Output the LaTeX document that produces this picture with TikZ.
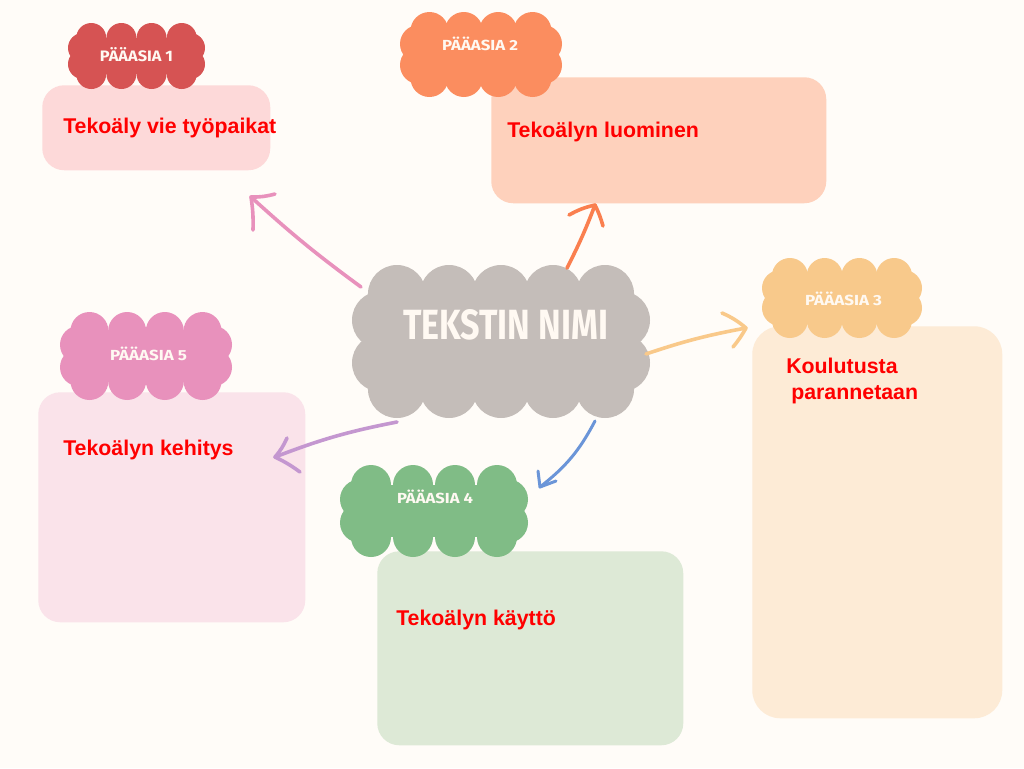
\documentclass[tikz,border=0pt]{standalone}
\usepackage{fontspec}
\usepackage{graphicx}
\setmainfont{Liberation Sans}
\newfontfamily\headfont{Fira Sans}
\newlength\pxu \setlength\pxu{0.75pt}
\definecolor{bgcol}{HTML}{FFFCF8}
\definecolor{c1col}{HTML}{D65353}
\definecolor{b1col}{HTML}{FDD9D9}
\definecolor{c2col}{HTML}{FB8D5F}
\definecolor{b2col}{HTML}{FED1BC}
\definecolor{c3col}{HTML}{F8C98B}
\definecolor{b3col}{HTML}{FDEBD6}
\definecolor{c4col}{HTML}{80BC86}
\definecolor{b4col}{HTML}{DDE9D6}
\definecolor{c5col}{HTML}{E891BC}
\definecolor{b5col}{HTML}{FAE3EA}
\definecolor{maincol}{HTML}{C4BDB9}
\definecolor{txtred}{HTML}{FF0000}
\definecolor{headtxt}{HTML}{FFF9F2}
\definecolor{a1col}{HTML}{E891BC}
\definecolor{a2col}{HTML}{FA7F4F}
\definecolor{a3col}{HTML}{F9C98A}
\definecolor{a4col}{HTML}{6B95D8}
\definecolor{a5col}{HTML}{C497D0}
\newcommand{\mycloud}[8]{%
  \pgfmathsetmacro\cwA{#4-#6}%
  \pgfmathsetmacro\chA{#5-#6}%
  \pgfmathsetmacro\csA{0.45*\chA}%
  \pgfmathsetmacro\cdA{0.55*#6}%
  \pgfmathsetmacro\cstepA{(2*\cwA-2*\cdA)/(#7-1)}%
  \fill[#8] ({#2-\cwA},{#3-\chA}) rectangle ({#2+\cwA},{#3+\chA});
  \foreach \i in {1,...,#7}{%
    \fill[#8] ({#2-\cwA+\cdA+(\i-1)*\cstepA},{#3-\chA}) circle[radius=#6];
    \fill[#8] ({#2-\cwA+\cdA+(\i-1)*\cstepA},{#3+\chA}) circle[radius=#6];
  }
  \fill[#8] ({#2-\cwA},{#3-\csA}) circle[radius=#6];
  \fill[#8] ({#2-\cwA},{#3+\csA}) circle[radius=#6];
  \fill[#8] ({#2+\cwA},{#3-\csA}) circle[radius=#6];
  \fill[#8] ({#2+\cwA},{#3+\csA}) circle[radius=#6];
  \coordinate (#1) at (#2,#3);
}
\tikzset{
  box/.style={anchor=north west, inner sep=0pt, rounded corners=22\pxu},
  body/.style={anchor=base west, inner sep=0pt, text=txtred, font=\fontsize{16}{19.5}\selectfont\bfseries},
  head/.style={inner sep=0pt, text=headtxt},
  arr/.style={line width=3.6\pxu, line cap=round, line join=round},
}
\newcommand{\headlbl}[3]{\resizebox{#1\pxu}{#2\pxu}{\headfont\bfseries #3}}
\begin{document}
\begin{tikzpicture}[x=0.75pt,y=-0.75pt]
\fill[bgcol] (0,0) rectangle (1024,768);
\useasboundingbox (0,0) rectangle (1024,768);
% boxes
\node[box, fill=b1col, minimum width=228\pxu, minimum height=85\pxu] (b1) at (42,85) {};
\node[box, fill=b2col, minimum width=335\pxu, minimum height=126\pxu] (b2) at (491,77) {};
\node[box, fill=b3col, minimum width=250\pxu, minimum height=392\pxu, rounded corners=28\pxu] (b3) at (752,326) {};
\node[box, fill=b5col, minimum width=267\pxu, minimum height=230\pxu] (b5) at (38,392) {};
\node[box, fill=b4col, minimum width=306\pxu, minimum height=194\pxu] (b4) at (377,551) {};
% clouds
\mycloud{c1}{136.5}{56}{68.5}{33}{15}{4}{c1col}
\mycloud{c2}{481}{54.5}{81}{42.5}{19}{4}{c2col}
\mycloud{c3}{842}{298}{80}{40}{18}{4}{c3col}
\mycloud{c5}{146}{356}{86}{44}{19}{4}{c5col}
\mycloud{c4}{434}{511}{94}{46}{20}{4}{c4col}
\mycloud{cm}{501}{341.5}{149}{76.5}{29}{5}{maincol}
% cloud labels
\node[head] (h1) at (136.5,55) {\headlbl{73}{14}{PÄÄASIA 1}};
\node[head] (h2) at (480,43.5) {\headlbl{76}{13.5}{PÄÄASIA 2}};
\node[head] (h3) at (843.5,298.5) {\headlbl{77}{13.5}{PÄÄASIA 3}};
\node[head] (h4) at (435,496.5) {\headlbl{76}{13.5}{PÄÄASIA 4}};
\node[head] (h5) at (148.5,353.5) {\headlbl{77}{13.5}{PÄÄASIA 5}};
\node[head] (hm) at (505.5,325) {\headlbl{205}{30}{TEKSTIN NIMI}};
% box texts
\node[body] (t1) at (63,133) {Tekoäly vie työpaikat};
\node[body] (t2) at (507,137) {Tekoälyn luominen};
\node[body] (t3a) at (786,373) {Koulutusta};
\node[body] (t3b) at (791,399) {parannetaan};
\node[body] (t5) at (63,455) {Tekoälyn kehitys};
\node[body] (t4) at (396,625) {Tekoälyn käyttö};
% arrow coordinates
\coordinate (p1s) at (361,287);
\coordinate (p1t) at (251,197);
\coordinate (p1a) at (275,194);
\coordinate (p1b) at (253,230);
\coordinate (p2s) at (567,268);
\coordinate (p2t) at (595,205);
\coordinate (p2a) at (569,215);
\coordinate (p2b) at (603,226);
\coordinate (p3s) at (646,354);
\coordinate (p3t) at (746,328);
\coordinate (p3a) at (722,313);
\coordinate (p3b) at (733,347);
\coordinate (p4s) at (595,421);
\coordinate (p4t) at (540,487);
\coordinate (p4a) at (538,471);
\coordinate (p4b) at (556,481);
\coordinate (p5s) at (397,422);
\coordinate (p5t) at (275,457);
\coordinate (p5a) at (287,438);
\coordinate (p5b) at (300,472);
% arrows
\draw[arr, a1col] (p1s) to[bend left=3] (p1t);
\draw[arr, a1col] (p1a) to[bend left=8] (p1t) to[bend left=5] (p1b);
\draw[arr, a2col] (p2s) to[bend right=3] (p2t);
\draw[arr, a2col] (p2a) to[bend left=8] (p2t) to[bend left=5] (p2b);
\draw[arr, a3col] (p3s) to[bend left=4] (p3t);
\draw[arr, a3col] (p3a) to[bend left=8] (p3t) to[bend left=5] (p3b);
\draw[arr, a4col, line width=3\pxu] (p4s) to[bend left=12] (p4t);
\draw[arr, a4col, line width=3\pxu] (p4a) -- (p4t) -- (p4b);
\draw[arr, a5col] (p5s) to[bend right=5] (p5t);
\draw[arr, a5col] (p5a) to[bend left=8] (p5t) to[bend left=5] (p5b);
\end{tikzpicture}
\end{document}
